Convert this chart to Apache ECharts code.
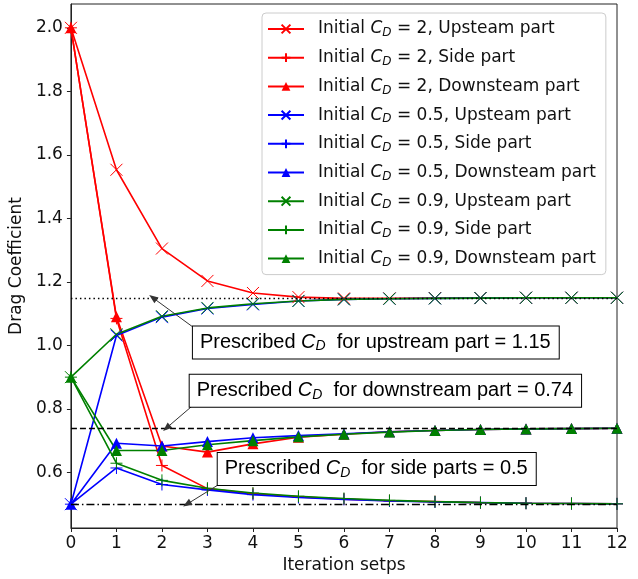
<!DOCTYPE html>
<html>
<head>
<meta charset="utf-8">
<script src="https://cdn.jsdelivr.net/npm/echarts@6/dist/echarts.min.js"></script>
<style>
  html, body { margin: 0; padding: 0; background: #fff; }
  #chart { width: 638px; height: 579px; }
</style>
</head>
<body>
<div id="chart"></div>
<script>
// 迭代步
var steps = [0, 1, 2, 3, 4, 5, 6, 7, 8, 9, 10, 11, 12];
var yTicks = [0.6, 0.8, 1.0, 1.2, 1.4, 1.6, 1.8, 2.0];

// Initial CD = 2
var redUp   = [2.0, 1.553, 1.305, 1.203, 1.165, 1.152, 1.148, 1.148, 1.149, 1.149, 1.15, 1.15, 1.15];
var redSide = [2.0, 1.085, 0.622, 0.549, 0.533, 0.523, 0.516, 0.511, 0.508, 0.505, 0.503, 0.502, 0.501];
var redDown = [2.0, 1.09, 0.683, 0.664, 0.69, 0.711, 0.72, 0.728, 0.732, 0.735, 0.737, 0.738, 0.739];
// Initial CD = 0.5
var blueUp   = [0.5, 1.031, 1.089, 1.116, 1.129, 1.14, 1.145, 1.147, 1.148, 1.149, 1.15, 1.15, 1.15];
var blueSide = [0.5, 0.614, 0.562, 0.545, 0.53, 0.521, 0.515, 0.51, 0.507, 0.505, 0.503, 0.502, 0.501];
var blueDown = [0.5, 0.692, 0.683, 0.697, 0.709, 0.716, 0.722, 0.728, 0.732, 0.735, 0.737, 0.738, 0.739];
// Initial CD = 0.9
var greenUp   = [0.9, 1.035, 1.092, 1.118, 1.131, 1.14, 1.145, 1.147, 1.148, 1.149, 1.15, 1.15, 1.15];
var greenSide = [0.9, 0.629, 0.575, 0.55, 0.535, 0.525, 0.518, 0.512, 0.508, 0.505, 0.503, 0.502, 0.501];
var greenDown = [0.9, 0.669, 0.669, 0.687, 0.70, 0.712, 0.72, 0.727, 0.732, 0.735, 0.737, 0.738, 0.739];

// 规定值
var prescribedUp = 1.15, prescribedDown = 0.74, prescribedSide = 0.5;

// 注释: 文本框中心 / 箭头起点 / 箭头终点 (数据坐标)
var notes = [
    {text: 'Prescribed {i|C}{s|D}  for upstream part = 1.15', box: [6.70, 1.009], from: [2.66, 1.06], to: [1.8, 1.15]},
    {text: 'Prescribed {i|C}{s|D}  for downstream part = 0.74', box: [6.91, 0.857], from: [2.68, 0.811], to: [2.1, 0.74]},
    {text: 'Prescribed {i|C}{s|D}  for side parts = 0.5', box: [6.72, 0.611], from: [3.25, 0.562], to: [2.55, 0.5]}
];

var X_SYM = 'path://M0,0L10,10M0,10L10,0';
var P_SYM = 'path://M5,0L5,10M0,5L10,5';

function mk(name, data, color, kind) {
    var sym = kind === 'x' ? X_SYM : (kind === '+' ? P_SYM : 'triangle');
    return {
        name: name,
        type: 'line',
        data: steps.map(function (s, i) { return [s, data[i]]; }),
        symbol: sym,
        symbolSize: kind === '^' ? 11 : 12,
        showAllSymbol: true,
        lineStyle: {color: color, width: 1.6},
        itemStyle: {color: color, borderColor: color, borderWidth: kind === '^' ? 0 : 1},
        emphasis: {disabled: true},
        animation: false
    };
}

var series = [
    mk('Initial C_D = 2, Upsteam part', redUp, '#ff0000', 'x'),
    mk('Initial C_D = 2, Side part', redSide, '#ff0000', '+'),
    mk('Initial C_D = 2, Downsteam part', redDown, '#ff0000', '^'),
    mk('Initial C_D = 0.5, Upsteam part', blueUp, '#0000ff', 'x'),
    mk('Initial C_D = 0.5, Side part', blueSide, '#0000ff', '+'),
    mk('Initial C_D = 0.5, Downsteam part', blueDown, '#0000ff', '^'),
    mk('Initial C_D = 0.9, Upsteam part', greenUp, '#008000', 'x'),
    mk('Initial C_D = 0.9, Side part', greenSide, '#008000', '+'),
    mk('Initial C_D = 0.9, Downsteam part', greenDown, '#008000', '^')
];
var legendNames = series.map(function (s) { return s.name; });

// 参考线 + 注释
var noteRich = {
    i: {fontStyle: 'italic', fontSize: 20, fontFamily: 'Liberation Sans'},
    s: {fontStyle: 'italic', fontSize: 14, lineHeight: 10, verticalAlign: 'bottom', fontFamily: 'Liberation Sans'}
};
series.push({
    name: 'ref',
    type: 'line',
    data: [],
    silent: true,
    animation: false,
    markLine: {
        silent: true,
        animation: false,
        symbol: 'none',
        label: {show: false},
        data: [
            {yAxis: prescribedUp, lineStyle: {color: '#000', width: 1.3, type: [1.5, 3]}},
            {yAxis: prescribedDown, lineStyle: {color: '#000', width: 1.3, type: [6, 3]}},
            {yAxis: prescribedSide, lineStyle: {color: '#000', width: 1.3, type: [8, 3, 1.5, 3]}}
        ].concat(notes.map(function (n) {
            return [
                {coord: n.from, symbol: 'none', lineStyle: {color: '#333', width: 1, type: 'solid'}},
                {coord: n.to, symbol: 'triangle', symbolSize: [7, 9]}
            ];
        }))
    },
    markPoint: {
        silent: true,
        animation: false,
        symbol: 'rect',
        symbolSize: 1,
        itemStyle: {color: 'rgba(0,0,0,0)'},
        label: {
            show: true,
            position: 'inside',
            color: '#000',
            fontFamily: 'Liberation Sans',
            fontSize: 20,
            lineHeight: 22,
            backgroundColor: '#fff',
            borderColor: '#000',
            borderWidth: 1,
            padding: [5, 8, 5, 7],
            rich: noteRich
        },
        data: notes.map(function (n) {
            return {coord: n.box, label: {formatter: n.text}};
        })
    }
});

var myChart = echarts.init(document.getElementById('chart'), null, {renderer: 'canvas'});
var option = {
    animation: false,
    grid: {
        left: 70, right: 21, top: 4, bottom: 51,
        show: true, borderColor: '#222', borderWidth: 1, backgroundColor: '#fff'
    },
    legend: {
        data: legendNames,
        orient: 'vertical',
        left: 262, top: 13,
        padding: [6, 10, 6, 5],
        itemWidth: 36,
        itemHeight: 11,
        itemGap: 8.7,
        backgroundColor: 'rgba(255,255,255,0.85)',
        borderColor: '#ccc',
        borderWidth: 1,
        borderRadius: 4,
        selectedMode: false,
        formatter: function (name) {
            return name.replace('C_D', '{i|C}{s|D}');
        },
        textStyle: {
            fontFamily: 'DejaVu Sans',
            fontSize: 17,
            lineHeight: 20,
            color: '#111',
            padding: [0, 0, 0, 9],
            rich: {
                i: {fontStyle: 'italic', fontSize: 17, fontFamily: 'DejaVu Sans'},
                s: {fontStyle: 'italic', fontSize: 12, lineHeight: 10, verticalAlign: 'bottom', fontFamily: 'DejaVu Sans'}
            }
        }
    },
    xAxis: {
        type: 'value',
        min: 0, max: 12, interval: 1,
        name: 'Iteration setps',
        nameLocation: 'middle',
        nameGap: 28,
        nameTextStyle: {fontFamily: 'DejaVu Sans', fontSize: 17, color: '#111'},
        axisLine: {lineStyle: {color: '#222'}},
        axisTick: {length: 4, lineStyle: {color: '#222'}},
        axisLabel: {fontFamily: 'DejaVu Sans', fontSize: 17, color: '#111', margin: 7},
        splitLine: {show: false}
    },
    yAxis: {
        type: 'value',
        min: 0.425, max: 2.075,
        name: 'Drag Coefficient',
        nameLocation: 'middle',
        nameGap: 37,
        nameTextStyle: {fontFamily: 'DejaVu Sans', fontSize: 17, color: '#111'},
        axisLine: {show: true, lineStyle: {color: '#222'}},
        axisTick: {show: true, length: 4, customValues: yTicks, lineStyle: {color: '#222'}},
        axisLabel: {
            fontFamily: 'DejaVu Sans', fontSize: 17, color: '#111', margin: 8,
            customValues: yTicks,
            formatter: function (v) { return v.toFixed(1); }
        },
        splitLine: {show: false}
    },
    series: series
};
myChart.setOption(option);
window.addEventListener('resize', function () {
    myChart.resize();
});
</script>
</body>
</html>
